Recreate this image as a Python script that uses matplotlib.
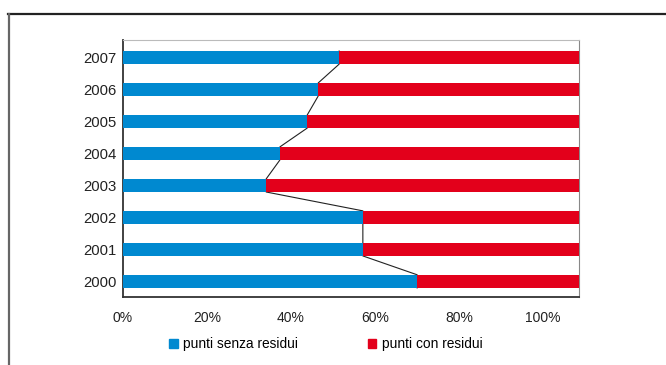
import numpy as np
import matplotlib.pyplot as plt
from matplotlib.lines import Line2D
from matplotlib.patches import Patch

plt.rcParams['font.family'] = ['Liberation Sans', 'DejaVu Sans']

years = ['2000', '2001', '2002', '2003', '2004', '2005', '2006', '2007']
senza = [64.5, 52.6, 52.6, 31.4, 34.4, 40.4, 42.8, 47.4]   # % punti senza residui
con = [100 - v for v in senza]                              # % punti con residui
pct_labels = ['0%', '20%', '40%', '60%', '80%', '100%']

BLUE = '#0089D0'
RED = '#E3001B'
H = 0.41
LABEL_SCALE = 0.921   # percent labels sit on a slightly compressed scale

fig = plt.figure(figsize=(6.66, 3.65), dpi=100, facecolor='white')

# outer frame lines (top and left)
fig.add_artist(Line2D([8/666, 1.0], [1 - 14/365, 1 - 14/365], color='#222222', lw=1.6))
fig.add_artist(Line2D([9/666, 9/666], [1 - 14/365, 1 - 364/365], color='#666666', lw=1.6))

ax = fig.add_axes([123/666, 1 - 297/365, (579 - 123)/666, (297 - 40)/365])
y = np.arange(len(years))

ax.barh(y, senza, height=H, color=BLUE, zorder=3)
ax.barh(y, con, left=senza, height=H, color=RED, zorder=3)

# line joining the boundaries, bottom edge of one bar to top edge of the next
lx, ly = [], []
for i in range(len(years) - 1, -1, -1):
    lx += [senza[i], senza[i]]
    ly += [i + H/2, i - H/2]
ax.plot(lx, ly, color='#222222', lw=0.8, zorder=2)

ax.set_xlim(0, 100)
ax.set_ylim(-0.49, 7.55)
ax.set_yticks(y)
ax.set_yticklabels(years, fontsize=10.7, color='#222222')
ax.set_xticks(np.arange(0, 101, 20) * LABEL_SCALE)
ax.set_xticklabels(pct_labels, fontsize=10, color='#222222')
ax.tick_params(length=0)
ax.tick_params(axis='y', pad=4.5)
ax.tick_params(axis='x', pad=10)

ax.spines['left'].set_color('#333333')
ax.spines['bottom'].set_color('#333333')
ax.spines['left'].set_linewidth(1.3)
ax.spines['bottom'].set_linewidth(1.3)
ax.spines['top'].set_color('#bbbbbb')
ax.spines['right'].set_color('#888888')

handles = [Patch(color=BLUE, label='punti senza residui'),
           Patch(color=RED, label='punti con residui')]
fig.legend(handles=handles, loc='center', bbox_to_anchor=(326/666, 1 - 344/365),
           ncol=2, frameon=False, fontsize=9.9, handlelength=0.6, handleheight=0.6,
           handletextpad=0.4, columnspacing=5.1, borderpad=0, borderaxespad=0)

plt.savefig('out.png', dpi=100, facecolor='white')
